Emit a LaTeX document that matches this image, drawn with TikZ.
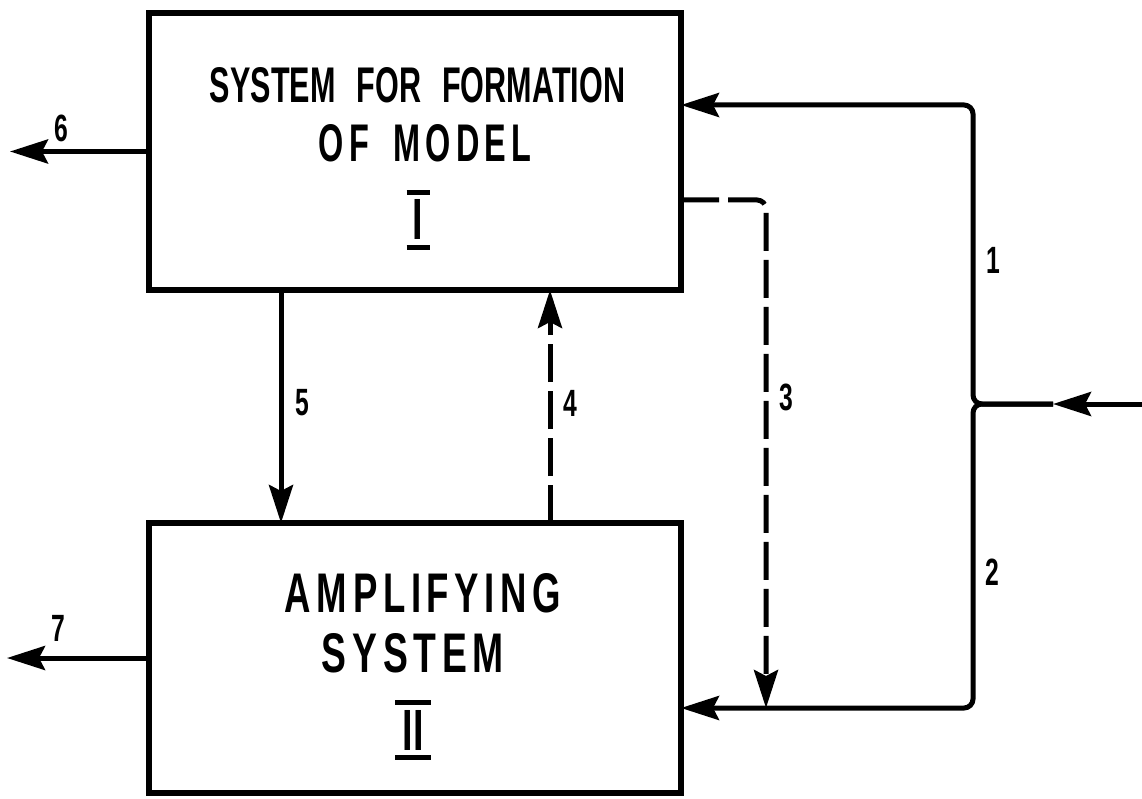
\documentclass[tikz,border=0pt]{standalone}
\usepackage{fontspec}
\usepackage{graphicx}
\usetikzlibrary{arrows.meta}
\newfontfamily\cond[FakeStretch=0.65]{Liberation Sans}
\begin{document}
\begin{tikzpicture}[x=1pt,y=-1pt,
  box/.style={draw, line width=6pt, minimum width=532pt, minimum height=277pt, inner sep=0pt, outer sep=0pt},
  conn/.style={line width=5pt},
  dsh/.style={dash pattern=on 38pt off 9pt},
  tip/.style={-{Stealth[length=38pt,width=24pt,inset=6pt]}},
  txt/.style={inner sep=0pt, anchor=base, font=\cond\bfseries},
  num/.style={inner sep=0pt, font=\cond\bfseries\fontsize{38}{38}\selectfont},
  bar/.style={line width=5pt}
]
\useasboundingbox (0,0) rectangle (1142,799);
% boxes
\node[box] (b1) at (415,151.5) {};
\node[box, minimum height=270pt] (b2) at (415,658) {};
% texts box I
\node[txt] (t1a) at (417.5,103) {\resizebox{415pt}{35pt}{SYSTEM\hspace{0.45em}FOR\hspace{0.45em}FORMATION}};
\node[txt] (t1b) at (425,162) {\resizebox{212pt}{37pt}{\addfontfeature{LetterSpace=10}OF\hspace{0.5em}MODEL}};
\node[txt] (n1) at (418,240) {\resizebox{!}{40pt}{I}};
\draw[bar] ([xshift=-11.5pt,yshift=7pt]n1.north) -- ++(23,0);
\draw[bar] ([xshift=-11.5pt,yshift=-7pt]n1.south) -- ++(23,0);
% texts box II
\node[txt] (t2a) at (423,612) {\resizebox{276pt}{39pt}{\addfontfeature{LetterSpace=10}AMPLIFYING}};
\node[txt] (t2b) at (413,672) {\resizebox{182pt}{39pt}{\addfontfeature{LetterSpace=10}SYSTEM}};
\node[txt] (n2) at (413,750) {\resizebox{!}{40pt}{II}};
\draw[bar] ([xshift=-18pt,yshift=7pt]n2.north) -- ++(36,0);
\draw[bar] ([xshift=-18pt,yshift=-7pt]n2.south) -- ++(36,0);
% helper coordinates
\coordinate (c5) at (281,0);
\coordinate (c4) at (550,0);
\coordinate (r3) at (0,200);
\coordinate (k3) at (766,200);
\coordinate (y1) at (0,105);
\coordinate (y2) at (0,708);
\coordinate (in) at (1142,404);
\coordinate (inm) at (1053,404);
\coordinate (jn) at (973,404);
\coordinate (o6) at (10,0);
\coordinate (o7) at (7,0);
% connectors
\draw[conn,tip] (b1.south -| c5) -- (b2.north -| c5);
\draw[conn,dsh,tip] (b2.north -| c4) -- (b1.south -| c4);
\draw[conn,dsh,tip,rounded corners=9pt] (b1.east |- r3) -- (k3) -- (k3 |- y2);
\draw[conn,tip] (in) -- (inm);
\draw[conn,tip,rounded corners=9pt] (inm) -- (jn) |- (b1.east |- y1);
\draw[conn,tip,rounded corners=9pt] (inm) -- (jn) |- (b2.east |- y2);
\draw[conn,tip] (b1.west) -- (b1.west -| o6);
\draw[conn,tip] (b2.west) -- (b2.west -| o7);
% labels
\node[num] (l1) at (993,260) {1};
\node[num] (l2) at (992,572) {2};
\node[num] (l3) at (786,397) {3};
\node[num] (l4) at (570,403) {4};
\node[num] (l5) at (302,403) {5};
\node[num] (l6) at (61,128) {6};
\node[num] (l7) at (58,628) {7};
\end{tikzpicture}
\end{document}
